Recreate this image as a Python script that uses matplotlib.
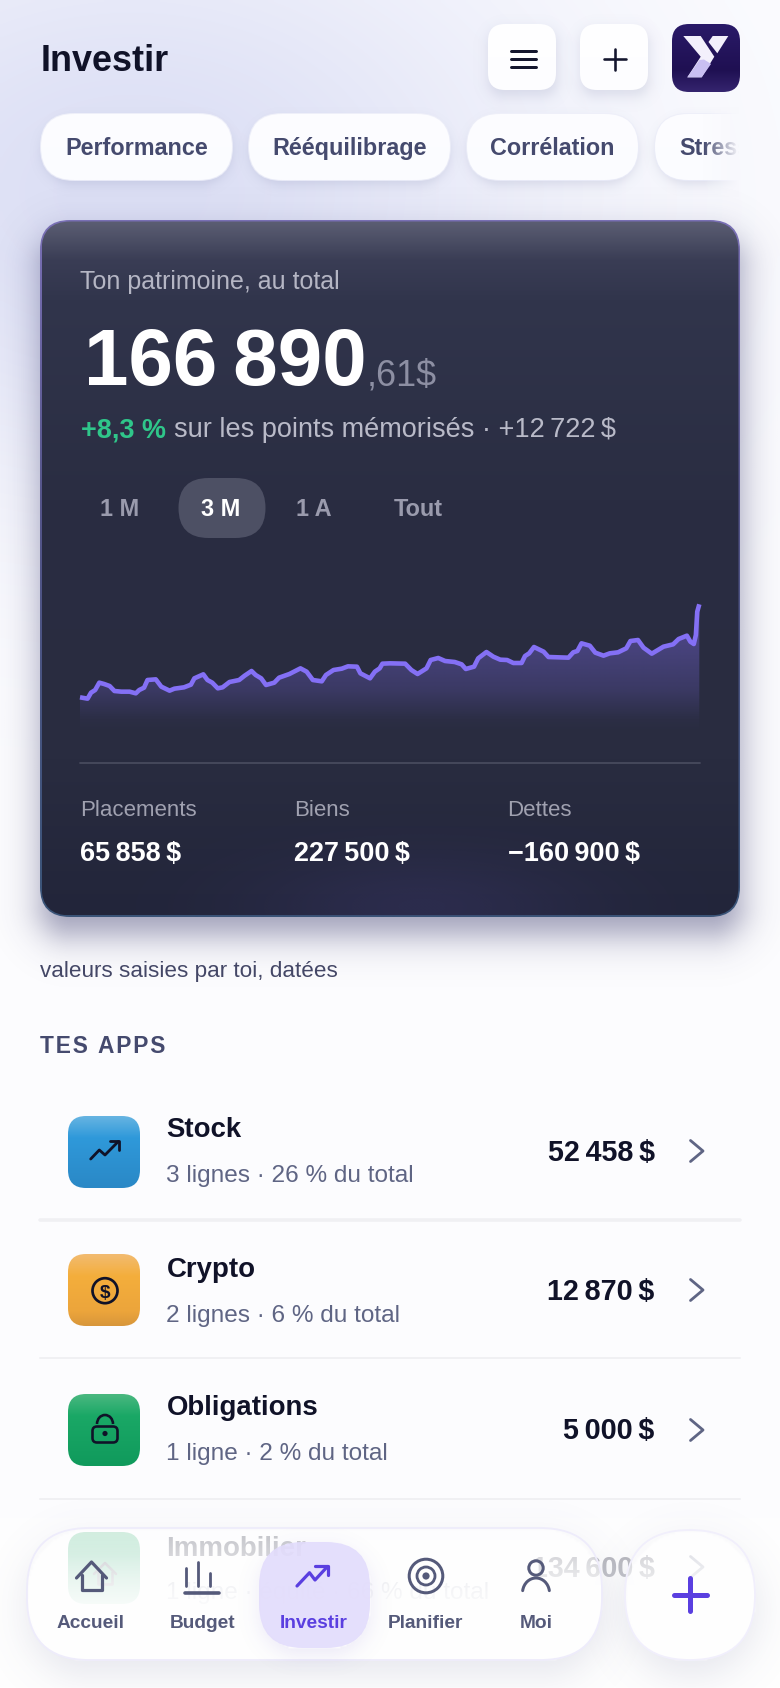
import numpy as np
import matplotlib
matplotlib.use("Agg")
import matplotlib.pyplot as plt
from matplotlib.colors import to_rgba
from matplotlib.patches import FancyBboxPatch, Circle, Polygon, Arc

FONT = "Liberation Sans"
plt.rcParams["font.family"] = [FONT, "DejaVu Sans"]

# ---------- data ----------
days = [0, 1.1, 1.6, 2.2, 2.8, 3.5, 4.3, 5.0, 6.0, 7.2, 8.1, 8.6, 9.3, 9.8, 11.0, 11.8, 13.0, 13.7, 15.1, 16.1,
        16.6, 17.9, 18.5, 19.2, 20.0, 20.7, 21.7, 23.1, 23.9, 24.9, 25.5, 26.3, 27.0, 28.2, 28.9, 30.4,
        32.0, 32.9, 33.8, 35.1, 35.7, 36.8, 38.0, 38.9, 40.2, 40.7, 42.1, 42.8, 43.5, 43.9, 45.0, 47.2,
        48.1, 49.0, 50.3, 50.9, 52.0, 53.0, 54.4, 55.4, 56.0, 57.2, 57.8, 59.0, 60.0, 61.0,
        62.0, 62.9, 64.1, 64.6, 65.2, 65.9, 67.3, 68.0, 70.9, 71.6, 72.2, 72.8, 74.0, 74.8, 76.0, 76.9,
        78.1, 79.3, 79.9, 81.0, 81.8, 83.0, 84.7, 86.1, 86.9, 88.1, 88.6, 89.1, 89.4, 89.6, 89.9]
values = [154168, 153981, 154802, 155167, 156170, 155988, 155714, 155030, 154939, 154939, 154711, 155167, 155486,
          156535, 156626, 155623, 155076, 155349, 155532, 155897, 156763, 157310, 156535, 156170, 155395, 155532,
          156261, 156535, 157128, 157766, 157219, 156763, 155851, 156170, 156854, 157356,
          158131, 157675, 156535, 156353, 157219, 157903, 158085, 158405, 158359, 157447, 156763, 157675, 158131,
          158769, 158815, 158769, 157903, 157356, 158131, 159271, 159545, 159134, 158997, 158678, 158040, 158359,
          159499, 160365, 159727, 159317,
          159271, 158861, 158861, 159818, 160183, 161049, 160411, 159681, 159590, 160320, 160502, 161551, 161232,
          160274, 159864, 160183, 160320, 160867, 161870, 162007, 160958, 160137, 161095, 161414, 162144, 162600,
          161779, 161460, 162691, 165883, 166890]
chips = ["Performance", "Rééquilibrage", "Corrélation", "Stress"]
periods = ["1 M", "3 M", "1 A", "Tout"]
stat_labels = ["Placements", "Biens", "Dettes"]
stat_values = ["65\u2009858\u2009$", "227\u2009500\u2009$", "\u2212160\u2009900\u2009$"]
app_names = ["Stock", "Crypto", "Obligations", "Immobilier"]
app_subs = ["3 lignes · 26 % du total", "2 lignes · 6 % du total", "1 ligne · 2 % du total",
            "1 ligne · équité · 66 % du total"]
app_values = ["52\u2009458\u2009$", "12\u2009870\u2009$", "5\u2009000\u2009$", "134\u2009600\u2009$"]
nav_labels = ["Accueil", "Budget", "Investir", "Planifier", "Moi"]

# ---------- canvas ----------
fig = plt.figure(figsize=(7.8, 16.88), dpi=100)
ax = fig.add_axes([0, 0, 1, 1])
ax.set_xlim(0, 780); ax.set_ylim(1688, 0); ax.axis("off")
ax.set_autoscale_on(False)

INK = "#101228"; SLATE = "#454a6e"; MUTED = "#5f6584"; NAVC = "#555a7a"; VIOLET = "#5a3fe0"


def T(x, y, s, px, color, weight="normal", ha="left", **kw):
    return ax.text(x, y, s, fontsize=px * .72, color=color, fontweight=weight, ha=ha, va="baseline",
                   family=FONT, **kw)


def rrect(x0, y0, x1, y1, r, **kw):
    return FancyBboxPatch((x0, y0), x1 - x0, y1 - y0, boxstyle=f"round,pad=0,rounding_size={r}", **kw)


def L(xs, ys, px, color, **kw):
    ax.plot(xs, ys, color=color, lw=px * .72, solid_capstyle="round", solid_joinstyle="round", **kw)


def vgrad(x0, y0, x1, y1, r, stops):
    n = max(int(y1 - y0), 2)
    ys = np.linspace(y0, y1, n)
    pos = [s[0] for s in stops]
    cols = np.array([to_rgba(s[1], s[2] if len(s) > 2 else 1) for s in stops])
    arr = np.stack([np.interp(ys, pos, cols[:, i]) for i in range(4)], axis=-1)[:, None, :]
    im = ax.imshow(arr, extent=(x0, x1, y1, y0), origin="upper", aspect="auto", interpolation="bilinear")
    p = rrect(x0, y0, x1, y1, r, fc="none", ec="none")
    ax.add_patch(p)
    im.set_clip_path(p)
    return im


def shadow(x0, y0, x1, y1, r, dy, blur, color, a, hole=False):
    pad = blur * 3 + abs(dy)
    gx, gy = np.meshgrid(np.arange(x0 - pad, x1 + pad, 2.0), np.arange(y0 - pad, y1 + pad, 2.0))

    def sdf(cy):
        cx = (x0 + x1) / 2
        qx = np.abs(gx - cx) - ((x1 - x0) / 2 - r)
        qy = np.abs(gy - cy) - ((y1 - y0) / 2 - r)
        return np.hypot(np.maximum(qx, 0), np.maximum(qy, 0)) + np.minimum(np.maximum(qx, qy), 0) - r

    al = a / (1 + np.exp(np.clip(sdf((y0 + y1) / 2 + dy) / (blur * .45), -30, 30)))
    if hole:
        al = np.where(sdf((y0 + y1) / 2) < 0, 0, al)
    rgba = np.zeros(gx.shape + (4,))
    rgba[..., :3] = to_rgba(color)[:3]
    rgba[..., 3] = al
    ax.imshow(rgba, extent=(x0 - pad, x1 + pad, y1 + pad, y0 - pad), origin="upper", aspect="auto",
              interpolation="bilinear")


# page background
BASE = np.array(to_rgba("#fdfdff")[:3]); TINT = np.array(to_rgba("#dcdff5")[:3])


def page(gx, gy):
    glow = np.exp(-(((gx - 130) / 430) ** 2 + ((gy - 190) / 300) ** 2))[..., None]
    return BASE * (1 - glow) + TINT * glow


gx, gy = np.meshgrid(np.arange(0, 780, 4.0), np.arange(0, 1688, 4.0))
ax.imshow(page(gx, gy), extent=(0, 780, 1688, 0), origin="upper", aspect="auto", interpolation="bilinear")

# header
T(40.5, 71, "Investir", 36, INK, "bold")
for x0 in (488, 580):
    shadow(x0, 24, x0 + 68, 90, 16, 5, 9, "#70779f", .2)
    vgrad(x0, 24, x0 + 68, 90, 17, [(24, "#ffffff"), (90, "#fdfdff")])
for yy in (51, 59, 67):
    L([510.5, 535.5], [yy, yy], 3, "#14162e")
L([604, 626], [59, 59], 2.6, "#14162e"); L([615, 615], [48.5, 69.5], 2.6, "#14162e")
vgrad(672, 24, 740, 92, 17, [(24, "#2a1a68"), (70, "#1f1052"), (92, "#35246e")])
ax.add_patch(Polygon([(683.3, 36), (700.7, 36), (714.3, 56.7), (701.7, 77.3), (687.3, 77.3), (700.7, 56.7)],
                     fc="#f3f0fc", ec="none"))
ax.add_patch(Polygon([(687.3, 77.3), (699.5, 60), (704, 59.5), (708, 62), (711, 64), (701.7, 77.3)],
                     fc="#c9bff2", ec="none"))
ax.add_patch(Polygon([(712.7, 36), (728.3, 36), (717.3, 53.3), (708.5, 42)], fc="#f3f0fc", ec="none"))

# chips
chip_x = [(41, 232), (249, 450), (467, 638), (655, 790)]
chip_tx = [137, 350, 552, 679]
for i, (lab, (a, b)) in enumerate(zip(chips, chip_x)):
    shadow(a, 114, b, 180, 33, 4, 7, "#70779f", .2)
    vgrad(a - 1, 113, b + 1, 181, 34, [(113, "#eff0fa"), (181, "#e8eaf7")])
    vgrad(a, 114, b, 180, 33, [(114, "#fdfdff"), (180, "#fbfcff")])
    if i < 3:
        T(chip_tx[i], 155, lab, 23.4, SLATE, "bold", ha="center")
    else:
        T(chip_tx[i], 155, lab, 23.4, SLATE, "bold")
# the chip strip fades out into the page at its right end
fx, fy = np.meshgrid(np.arange(702, 780, 2.0), np.arange(96, 200, 4.0))
fd = np.zeros(fx.shape + (4,))
fd[..., :3] = page(fx, fy)
fd[..., 3] = np.clip((fx - 702) / 36, 0, 1)
ax.imshow(fd, extent=(702, 780, 200, 96), origin="upper", aspect="auto", interpolation="bilinear")

# card
shadow(40, 220, 740, 917, 30, 18, 24, "#3c3c70", .5)
vgrad(40, 220, 740, 917, 30, [(220, "#7a70b5"), (500, "#55558a"), (917, "#3a5478")])
card_stops = [(221, "#5c5e73"), (236, "#4f5268"), (260, "#3a3d55"), (300, "#31354c"), (500, "#2a2d42"),
              (760, "#292c40"), (917, "#22253a")]
vgrad(41.5, 221.5, 738.5, 915.5, 29, card_stops)
gx, gy = np.meshgrid(np.arange(40, 740, 4.0), np.arange(800, 917, 3.0))
g = np.zeros(gx.shape + (4,)); g[..., :3] = to_rgba("#3a3768")[:3]
g[..., 3] = .4 * np.exp(-(((gx - 420) / 170) ** 2 + ((gy - 905) / 55) ** 2))
gim = ax.imshow(g, extent=(40, 740, 917, 800), origin="upper", aspect="auto", interpolation="bilinear")
gp = rrect(41.5, 221.5, 738.5, 915.5, 29, fc="none", ec="none"); ax.add_patch(gp); gim.set_clip_path(gp)

T(80.5, 289, "Ton patrimoine, au total", 25, "#b5b6c4")
T(84, 385.5, "166\u2009890", 80, "#ffffff", "bold")
T(367, 385.5, ",61$", 36, "#8d8fa3")
T(81, 437, "+8,3 %", 27, "#2fc68a", "bold")
T(174, 437, "sur les points mémorisés · +12\u2009722\u2009$", 27.1, "#b9bac8")

ax.add_patch(rrect(178.5, 478, 265.5, 538, 30, fc="#4d5064", ec="none"))
for lab, cx, col in zip(periods, [119.5, 221, 314, 418.5], ["#9a9bad", "#ffffff", "#9a9bad", "#9a9bad"]):
    T(cx, 516, lab, 23.5, col, "bold", ha="center")

L([80, 700], [762.7, 762.7], 1.8, "#484b5e")
for lab, val, x in zip(stat_labels, stat_values, [80.5, 294, 507.5]):
    T(x, 815.5, lab, 22.3, "#a0a1b0")
    T(x, 861.5, val, 27, "#ffffff", "bold")

T(40, 977, "valeurs saisies par toi, datées", 22.5, "#444766")
T(40, 1053, "\u200a".join("TES APPS"), 22.8, SLATE, "bold")

# separators
L([40, 740], [1220, 1220], 3.5, "#f0f0f3")
L([40, 740], [1358, 1358], 2, "#f0f0f3")
L([40, 740], [1499, 1499], 2, "#f0f0f3")

# app rows
ic_y = [1116, 1254, 1394, 1532]
ic_stops = [[(0, "#66b4e2"), (.3, "#2f99da"), (1, "#2a88c6")],
            [(0, "#f2bb70"), (.3, "#f4ae3c"), (.8, "#eca53b"), (1, "#d8963b")],
            [(0, "#4ab880"), (.3, "#1aa866"), (1, "#109a5c")],
            [(0, "#4ab880"), (.3, "#1aa866"), (1, "#109a5c")]]
title_y = [1137, 1277, 1415, 1556]
sub_y = [1182, 1322, 1460, 1599]
val_y = [1161, 1300, 1439, 1577]
chev_y = [1151, 1290, 1430, 1567]
for i in range(4):
    y = ic_y[i]
    vgrad(68, y, 140, y + 72, 18, [(y + s * 72, c) for s, c in ic_stops[i]])
    T(166.5, title_y[i], app_names[i], 27.6, INK, "bold")
    T(166.5, sub_y[i], app_subs[i], 24.4, MUTED)
    T(654.5, val_y[i], app_values[i], 28.7, INK, "bold", ha="right")
    L([690.5, 703, 690.5], [chev_y[i] - 10.5, chev_y[i], chev_y[i] + 10.5], 2.8, MUTED)

# stock arrow
L([90.7, 99.3, 105, 118.3], [1159, 1150, 1155, 1141.5], 2.8, INK)
L([110, 119, 119], [1141, 1141, 1149.5], 2.8, INK)
# crypto coin
ax.add_patch(Circle((105, 1290.7), 12.5, fc="none", ec=INK, lw=2.7 * .72))
T(105, 1297.5, "$", 19, INK, "bold", ha="center")
# lock
ax.add_patch(rrect(92.5, 1426.5, 117.5, 1442.5, 4.5, fc="none", ec=INK, lw=2.6 * .72))
ax.add_patch(Arc((105, 1424), 16, 18, theta1=180, theta2=360, ec=INK, lw=2.6 * .72))
ax.add_patch(Circle((105, 1433.5), 2.6, fc=INK, ec="none"))
# house of the covered row
L([94, 105, 116], [1574, 1563, 1574], 2.6, INK)
L([98, 98, 112, 112], [1572, 1584, 1584, 1572], 2.6, INK)

# bottom fade and floating glass bar
vgrad(0, 1505, 780, 1688, 0, [(1505, "#ffffff", 0), (1530, "#ffffff", .65), (1688, "#ffffff", 1)])
shadow(27, 1528, 602, 1660, 62, 14, 26, "#6c7099", .16, hole=True)
shadow(625, 1530, 755, 1660, 65, 14, 26, "#6c7099", .16, hole=True)
glass = [(1530, "#ffffff", .29), (1556, "#ffffff", .43), (1575, "#ffffff", .6), (1590, "#ffffff", .71),
         (1610, "#ffffff", .86), (1658, "#ffffff", .98)]
vgrad(27, 1528, 602, 1660, 62, glass)
vgrad(625, 1530, 755, 1660, 65, glass)
ax.add_patch(rrect(27, 1528, 602, 1660, 62, fc="none", ec="#eeecfb", lw=1.3))
ax.add_patch(rrect(625, 1530, 755, 1660, 65, fc="none", ec="#f1effc", lw=1.3))

# active item
shadow(259, 1542, 370, 1648, 42, 6, 14, "#6a55c8", .12, hole=True)
ax.add_patch(rrect(259, 1542, 370, 1648, 44, fc="#e2dcfc", ec="none", alpha=.9))

nav_x = [91, 203, 314, 425, 536]
for lab, x in zip(nav_labels, nav_x):
    T(x, 1627.5, lab, 19.2, VIOLET if lab == "Investir" else NAVC, "bold", ha="center")

# nav icons
L([76.5, 91.5, 106.5], [1578, 1562, 1578], 3.2, NAVC)
L([81.5, 81.5, 101.5, 101.5], [1575, 1590, 1590, 1575], 3.2, NAVC)
for bx, top in zip([185.6, 197.5, 209.5], [1568, 1562, 1573]):
    L([bx, bx], [top, 1586], 2.8, NAVC)
L([185, 219], [1592.7, 1592.7], 3.6, NAVC)
L([297, 309.5, 315, 327.5], [1586, 1572.7, 1580, 1566.5], 3.2, VIOLET)
L([315, 328, 328], [1566, 1566, 1575], 3.2, VIOLET)
ax.add_patch(Circle((426, 1576), 16.8, fc="none", ec=NAVC, lw=3 * .72))
ax.add_patch(Circle((426, 1576), 9, fc="none", ec=NAVC, lw=2.8 * .72))
ax.add_patch(Circle((426, 1576), 3.6, fc=NAVC, ec="none"))
ax.add_patch(Circle((536, 1568), 7.2, fc="none", ec=NAVC, lw=3 * .72))
ax.add_patch(Arc((536, 1593), 27, 30, theta1=190, theta2=350, ec=NAVC, lw=3 * .72, capstyle="round"))
# add button
L([673.5, 707], [1594.5, 1594.5], 5, VIOLET); L([690, 690], [1578, 1611], 5, VIOLET)

# draw everything in the order it was added, so overlays can cover text and lines
for k, artist in enumerate(ax.get_children()):
    artist.set_zorder(10 + k)

# chart
y_top, y_bot = 596, 735
vmin, vmax = 149011, 168026
cax = fig.add_axes([80 / 780, 1 - y_bot / 1688, 620 / 780, (y_bot - y_top) / 1688])
cax.patch.set_alpha(0); cax.axis("off")
cax.set_xlim(0, 90); cax.set_ylim(vmin, vmax)
poly = cax.fill_between(days, values, vmin, color="none", lw=0)
n = 140
alph = np.interp(np.linspace(y_top, y_bot, n), [y_top, 640, 690, 720, 733], [.42, .36, .2, .03, 0])
fa = np.zeros((n, 2, 4)); fa[..., :3] = to_rgba("#8470f5")[:3]; fa[..., 3] = alph[:, None]
fim = cax.imshow(fa, extent=(0, 90, vmin, vmax), origin="upper", aspect="auto", interpolation="bilinear")
fim.set_clip_path(poly.get_paths()[0], transform=cax.transData)
cax.set_xlim(0, 90); cax.set_ylim(vmin, vmax)
cax.plot(days, values, color="#8470f5", lw=3.3, solid_joinstyle="round", solid_capstyle="butt", clip_on=False)

ax.set_xlim(0, 780); ax.set_ylim(1688, 0)
fig.savefig("out.png", dpi=100)
